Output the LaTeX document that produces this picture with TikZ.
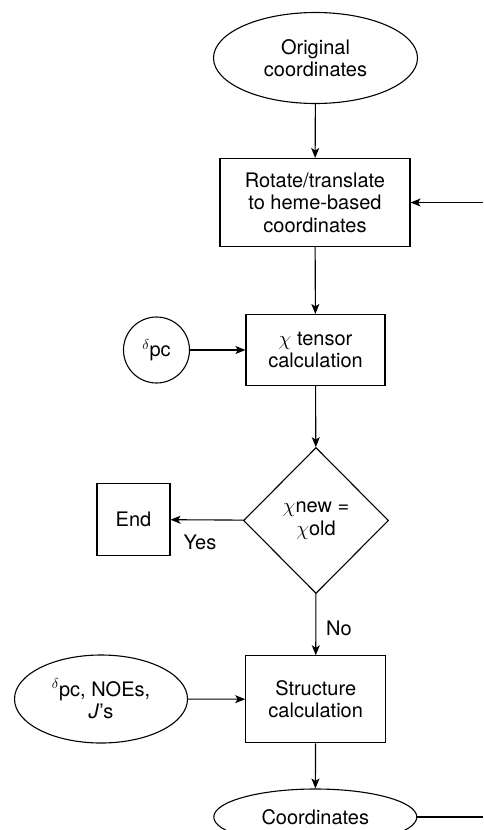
\documentclass[tikz,border=0pt]{standalone}
\usepackage{fontspec}
\setmainfont{TeX Gyre Heros}
\usetikzlibrary{shapes.geometric,arrows.meta}
\begin{document}
\begin{tikzpicture}[x=1pt,y=-1pt,
  every node/.style={font=\fontsize{20}{22.5}\selectfont, align=center, inner sep=0pt},
  box/.style={draw, line width=1.1pt, rectangle},
  oval/.style={draw, line width=1.1pt, ellipse},
  decision/.style={draw, line width=1.1pt, diamond},
  flow/.style={draw, line width=1.1pt, -{Stealth[length=10pt,width=8pt,inset=2.5pt]}},
  plain/.style={draw, line width=1.1pt}]
\useasboundingbox (0,0) rectangle (483,830);

% main column
\node[oval, minimum width=204pt, minimum height=91pt] (orig) at (315.5,58) {Original\\coordinates};
\node[box, minimum width=190pt, minimum height=88pt] (rot) at (315,202.5) {Rotate/translate\\to heme-based\\coordinates};
\node[box, minimum width=139pt, minimum height=71pt] (chi) at (315.5,350) {$\chi$ tensor\\calculation};
\node[decision, minimum width=145pt, minimum height=146pt] (dec) at (316,520.5) {$\chi$new =\\$\chi$old};
\node[box, minimum width=140pt, minimum height=87pt] (struct) at (315.7,699.3) {Structure\\calculation};
\node[oval, minimum width=203pt, minimum height=56pt] (coord) at (315.3,817) {Coordinates};

% side inputs and exit
\node[draw, line width=1.1pt, circle, minimum size=66pt] (dpc) at (156.5,350) {$^{\delta}$pc};
\node[box, minimum width=73pt, minimum height=72pt] (endb) at (133.5,519.5) {End};
\node[oval, minimum width=173pt, minimum height=88pt] (inp) at (101,699) {$^{\delta}$pc, NOEs,\\\textit{J}’s};

% branch labels
\node (yes) at (200,542) {Yes};
\node (no) at (339,628) {No};

% loop-back ends at the right margin
\coordinate (fbin) at (483,202.5);
\coordinate (fbout) at (483,817);

\draw[flow] (orig) -- (rot);
\draw[flow] (fbin) -- (rot.east);
\draw[flow] (rot) -- (chi);
\draw[flow] (dpc) -- (chi);
\draw[flow] (chi) -- (dec);
\draw[flow] (dec) -- (endb);
\draw[flow] (dec) -- (struct);
\draw[flow] (inp) -- (struct);
\draw[flow] (struct) -- (coord);
\draw[plain] (coord.east) -- (fbout);
\end{tikzpicture}
\end{document}
